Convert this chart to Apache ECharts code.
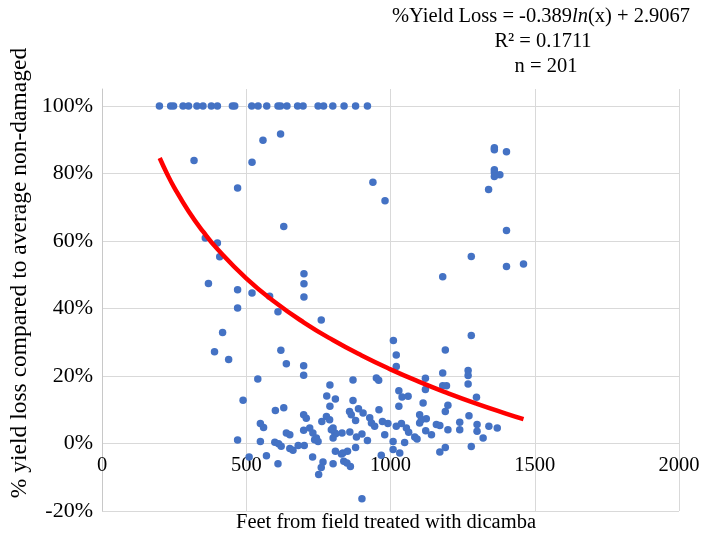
<!DOCTYPE html>
<html>
<head>
<meta charset="utf-8">
<script src="https://cdn.jsdelivr.net/npm/echarts@6/dist/echarts.min.js"></script>
<style>
html,body{margin:0;padding:0;background:#fff;}
#chart{width:702px;height:537px;}
</style>
</head>
<body>
<div id="chart"></div>
<script>
// Distance from treated field (feet)
const feet = [
  199,238,248,281,300,329,350,379,400,452,460,519,541,571,610,619,641,678,697,749,768,800,839,879,920,
  319,520,558,619,470,630,358,400,408,369,470,520,581,700,700,700,939,981,1360,1360,1402,1360,1360,1360,1379,1340,1402,1280,1181,1402,1461,
  470,610,760,418,390,439,620,639,699,699,540,790,779,809,790,489,601,630,1280,1010,1020,1190,1020,870,951,959,1121,1121,1181,1181,1194,1269,1269,1269,1298,870,1029,1040,1061,1113,1199,889,960,1029,1190,
  549,560,470,549,599,612,621,639,651,651,662,680,701,699,708,699,720,731,743,749,762,778,789,801,807,801,809,510,570,610,730,766,760,751,801,
  858,864,905,879,928,934,945,972,991,832,859,882,901,920,980,1009,1020,1038,1055,1063,1049,1084,1092,1101,1101,1124,1122,1142,1159,1199,1240,1240,1272,1300,1300,1280,
  835,851,838,849,861,879,968,1009,1032,1171,1190,901,1341,1370,1321,737,830,810,795,1171,1107
];
// % yield loss compared to average non-damaged
const yieldLoss = [
  100,100,100,100,100,100,100,100,100,100,100,100,100,100,100,100,100,100,100,100,100,100,100,100,100,
  83.8,83.3,89.8,91.7,75.7,64.3,60.9,59.4,55.3,47.4,45.5,44.6,43.6,50.3,47.3,43.4,77.4,71.9,87.6,87.0,86.4,81.1,80.3,79.1,79.6,75.2,63.1,55.4,49.4,52.4,53.2,
  40.1,39.0,36.6,32.9,27.2,24.9,27.6,23.6,23.0,20.2,19.1,17.3,14.1,13.2,11.0,12.8,9.8,10.6,32.0,30.5,26.2,27.7,22.8,18.8,19.4,18.7,19.3,16.0,20.9,17.1,17.1,21.6,20.1,17.6,13.7,12.7,15.6,13.8,14.0,12.0,11.3,10.3,10.0,11.0,9.5,
  5.9,4.7,1.0,0.6,0.4,-0.1,-0.8,3.1,2.6,-1.5,-2.0,-0.6,-0.6,8.5,7.5,3.9,4.6,3.1,1.6,0.6,6.5,8.0,7.0,4.6,3.1,1.6,-2.3,-4.0,-3.6,-6.0,-4.0,-5.5,-7.1,-9.2,-6.0,
  9.5,8.5,9.0,6.8,7.6,6.1,5.1,6.5,5.9,3.1,3.4,1.9,2.8,0.9,2.6,0.6,5.1,5.9,4.6,3.3,0.3,1.9,1.3,8.5,6.1,7.3,3.8,2.6,5.6,4.1,6.3,4.1,8.2,5.6,3.6,-0.9,
  -2.8,-2.3,-5.3,-5.8,-6.8,-1.2,-3.5,-1.8,-2.8,-2.5,-1.2,-16.4,5.1,4.6,1.6,1.1,-3.1,2.9,4.1,5.3,7.0
];
// Logarithmic trendline as drawn (feet, %)
const trendFeet = [200,225,250,300,350,400,500,600,700,800,900,1000,1100,1200,1300,1400,1461];
const trendLoss = [84.57,79.98,75.88,68.79,62.80,57.60,48.92,41.83,35.83,30.64,26.06,21.96,18.25,14.87,11.75,8.87,7.21];
// Axis ticks
const xTicks = {min: 0, max: 2000, step: 500};
const yTicks = {min: -20, max: 105, step: 20};
const equationLines = ['R\u00B2 = 0.1711', 'n = 201'];

const FONT = "'Liberation Serif','Times New Roman',serif";
const chart = echarts.init(document.getElementById('chart'), null, {renderer: 'canvas'});

const scatterData = feet.map((f, i) => [f, yieldLoss[i]]);
const trendData = trendFeet.map((f, i) => [f, trendLoss[i]]);

chart.setOption({
  animation: false,
  backgroundColor: '#ffffff',
  grid: {left: 102, right: 23, top: 89, bottom: 26, containLabel: false, outerBoundsMode: 'none'},
  xAxis: {
    type: 'value', min: xTicks.min, max: xTicks.max, interval: xTicks.step,
    position: 'bottom',
    axisLine: {show: false, onZero: false},
    axisTick: {show: false},
    splitLine: {show: true, lineStyle: {color: '#d9d9d9', width: 1}},
    axisLabel: {color: '#000', fontFamily: FONT, fontSize: 20.5, margin: -56,
      formatter: v => String(v)}
  },
  yAxis: {
    type: 'value', min: yTicks.min, max: yTicks.max, interval: yTicks.step,
    axisLine: {show: true, onZero: false, lineStyle: {color: '#c8c8c8', width: 1}},
    axisTick: {show: false},
    splitLine: {show: true, showMaxLine: false, lineStyle: {color: '#d9d9d9', width: 1}},
    axisLabel: {color: '#000', fontFamily: FONT, fontSize: 22, margin: 9, showMaxLabel: false,
      formatter: v => (Math.abs(v - 105) < 1e-6 ? '' : Math.round(v) + '%')}
  },
  series: [
    {
      type: 'scatter', data: scatterData, symbolSize: 7.5,
      itemStyle: {color: '#4472C4', opacity: 1}, z: 2
    },
    {
      type: 'line', data: trendData, smooth: true, showSymbol: false,
      lineStyle: {color: '#FF0000', width: 4.5}, z: 3
    }
  ],
  graphic: [
    {type: 'text', x: 541, y: 17, style: {
      text: '{a|%Yield Loss = -0.389}{i|ln}{a|(x) + 2.9067}',
      align: 'center', verticalAlign: 'middle',
      rich: {a: {fontFamily: FONT, fontSize: 20.5, fill: '#000'}, i: {fontFamily: FONT, fontSize: 20.5, fontStyle: 'italic', fill: '#000'}}
    }},
    {type: 'text', x: 543, y: 42, style: {text: equationLines[0], align: 'center', verticalAlign: 'middle', font: '20.5px ' + FONT, fill: '#000'}},
    {type: 'text', x: 546, y: 67, style: {text: equationLines[1], align: 'center', verticalAlign: 'middle', font: '20.5px ' + FONT, fill: '#000'}},
    {type: 'text', x: 386, y: 523, style: {text: 'Feet from field treated with dicamba', align: 'center', verticalAlign: 'middle', font: '20.5px ' + FONT, fill: '#000'}},
    {type: 'text', x: 20, y: 273, rotation: Math.PI / 2, style: {text: '% yield loss compared to average non-damaged', align: 'center', verticalAlign: 'middle', font: '23.5px ' + FONT, fill: '#000'}}
  ]
});
</script>
</body>
</html>
